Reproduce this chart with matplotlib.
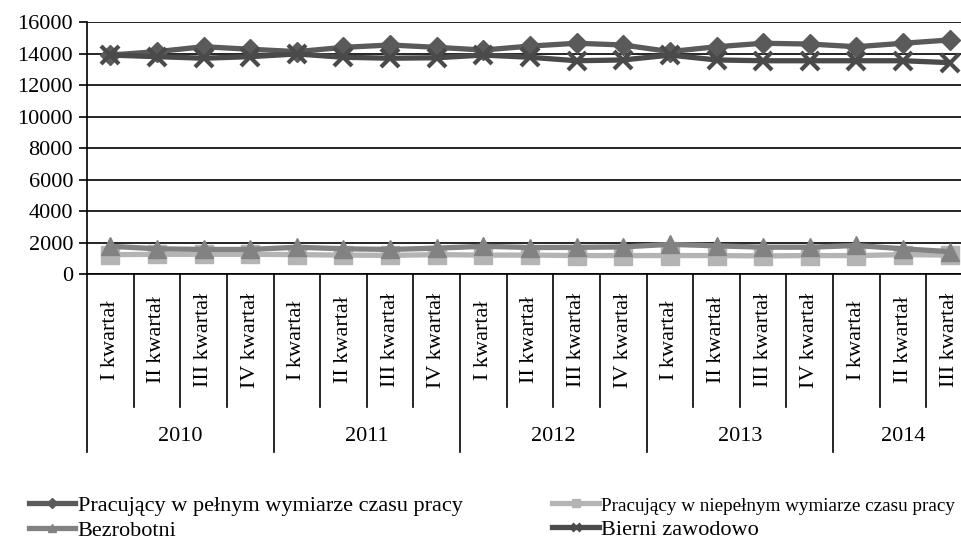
import matplotlib
matplotlib.use("Agg")
import matplotlib.pyplot as plt
from matplotlib.lines import Line2D

plt.rcParams['font.family'] = ['Liberation Serif', 'DejaVu Serif']

years = ["2010", "2011", "2012", "2013", "2014"]
quarters_per_year = [4, 4, 4, 4, 3]
quarter_names = ["I kwartał", "II kwartał", "III kwartał", "IV kwartał"]

full_time = [13900, 14120, 14430, 14270, 14120, 14390, 14540, 14390, 14220, 14470,
             14650, 14540, 14120, 14430, 14650, 14600, 14430, 14650, 14860]
part_time = [1230, 1250, 1250, 1250, 1230, 1200, 1180, 1230, 1200, 1200,
             1170, 1170, 1170, 1170, 1150, 1170, 1170, 1230, 1200]
unemployed = [1760, 1600, 1560, 1560, 1700, 1600, 1560, 1640, 1760, 1680,
              1690, 1720, 1880, 1790, 1700, 1700, 1810, 1600, 1420]
inactive = [13900, 13800, 13700, 13800, 13970, 13760, 13700, 13730, 13900, 13760,
            13540, 13590, 13900, 13590, 13540, 13540, 13540, 13540, 13420]

series_names = ["Pracujący w pełnym wymiarze czasu pracy",
                "Pracujący w niepełnym wymiarze czasu pracy",
                "Bezrobotni", "Bierni zawodowo"]
y_ticks = [0, 2000, 4000, 6000, 8000, 10000, 12000, 14000, 16000]

W, H = 962, 542
fig = plt.figure(figsize=(W / 100, H / 100), dpi=100)
ax_left, ax_right, ax_top, ax_bottom = 87, 973, 22, 274
ax = fig.add_axes([ax_left / W, 1 - ax_bottom / H, (ax_right - ax_left) / W, (ax_bottom - ax_top) / H])

n = len(full_time)
x = list(range(n))
fs = 16

c_full, c_part, c_unemp, c_inact = "#5a5a5a", "#b4b4b4", "#828282", "#4a4a4a"
lw = 3.8
ax.plot(x, full_time, color=c_full, lw=lw, marker="D", ms=10, mec=c_full, mfc=c_full, zorder=3)
ax.plot(x, part_time, color=c_part, lw=lw, marker="s", ms=13, mec=c_part, mfc=c_part, zorder=3)
ax.plot(x, unemployed, color=c_unemp, lw=lw, marker="^", ms=13, mec=c_unemp, mfc=c_unemp, zorder=4)
ax.plot(x, inactive, color=c_inact, lw=lw, marker="x", ms=13, mew=3, mec=c_inact, zorder=5)

ax.set_xlim(-0.5, n - 0.5)
ax.set_ylim(0, 16000)
ax.set_yticks(y_ticks)
ax.set_yticklabels([str(v) for v in y_ticks], fontsize=fs)
ax.yaxis.grid(True, color="black", lw=1.2)
ax.set_axisbelow(True)
ax.tick_params(axis="y", direction="out", length=6, width=1.2, pad=4, colors="black")
ax.set_xticks([])
for s in ["top", "right"]:
    ax.spines[s].set_visible(False)
ax.spines["left"].set_linewidth(1.2)
ax.spines["bottom"].set_linewidth(1.2)

tr = ax.get_xaxis_transform()
hpx = ax_bottom - ax_top
def ay(py):
    return -(py - ax_bottom) / hpx

# category labels and separators
idx = 0
boundaries = [-0.5]
for yr, nq in zip(years, quarters_per_year):
    start = idx
    for q in range(nq):
        ax.text(idx, ay(340), quarter_names[q], rotation=90, ha="center", va="center",
                fontsize=fs, transform=tr)
        if q > 0:
            ax.add_line(Line2D([idx - 0.5, idx - 0.5], [0, ay(407)], transform=tr,
                               color="black", lw=1.2, clip_on=False))
        idx += 1
    end = idx - 1
    ax.text((start + end) / 2, ay(437), yr, ha="center", va="center", fontsize=fs, transform=tr)
    boundaries.append(idx - 0.5)
for b in boundaries:
    ax.add_line(Line2D([b, b], [0, ay(452)], transform=tr, color="black", lw=1.2, clip_on=False))

h_full = Line2D([], [], color=c_full, lw=lw, marker="D", ms=5, mec=c_full)
h_part = Line2D([], [], color=c_part, lw=lw, marker="s", ms=6, mec=c_part)
h_unemp = Line2D([], [], color=c_unemp, lw=lw, marker="^", ms=6, mec=c_unemp)
h_inact = Line2D([], [], color=c_inact, lw=lw, marker="x", ms=6, mew=2, mec=c_inact)
leg = fig.legend([h_full, h_unemp, h_part, h_inact],
                 [series_names[0], series_names[2], series_names[1], series_names[3]],
                 ncol=2, loc="lower left",
                 bbox_to_anchor=(22 / W, -0.01), frameon=False, fontsize=fs,
                 handlelength=2.1, handletextpad=0.1, columnspacing=4.05,
                 labelspacing=0.2, borderaxespad=0.1, borderpad=0.2)
leg.get_texts()[2].set_fontsize(13.8)

fig.savefig("out.png", dpi=100)
